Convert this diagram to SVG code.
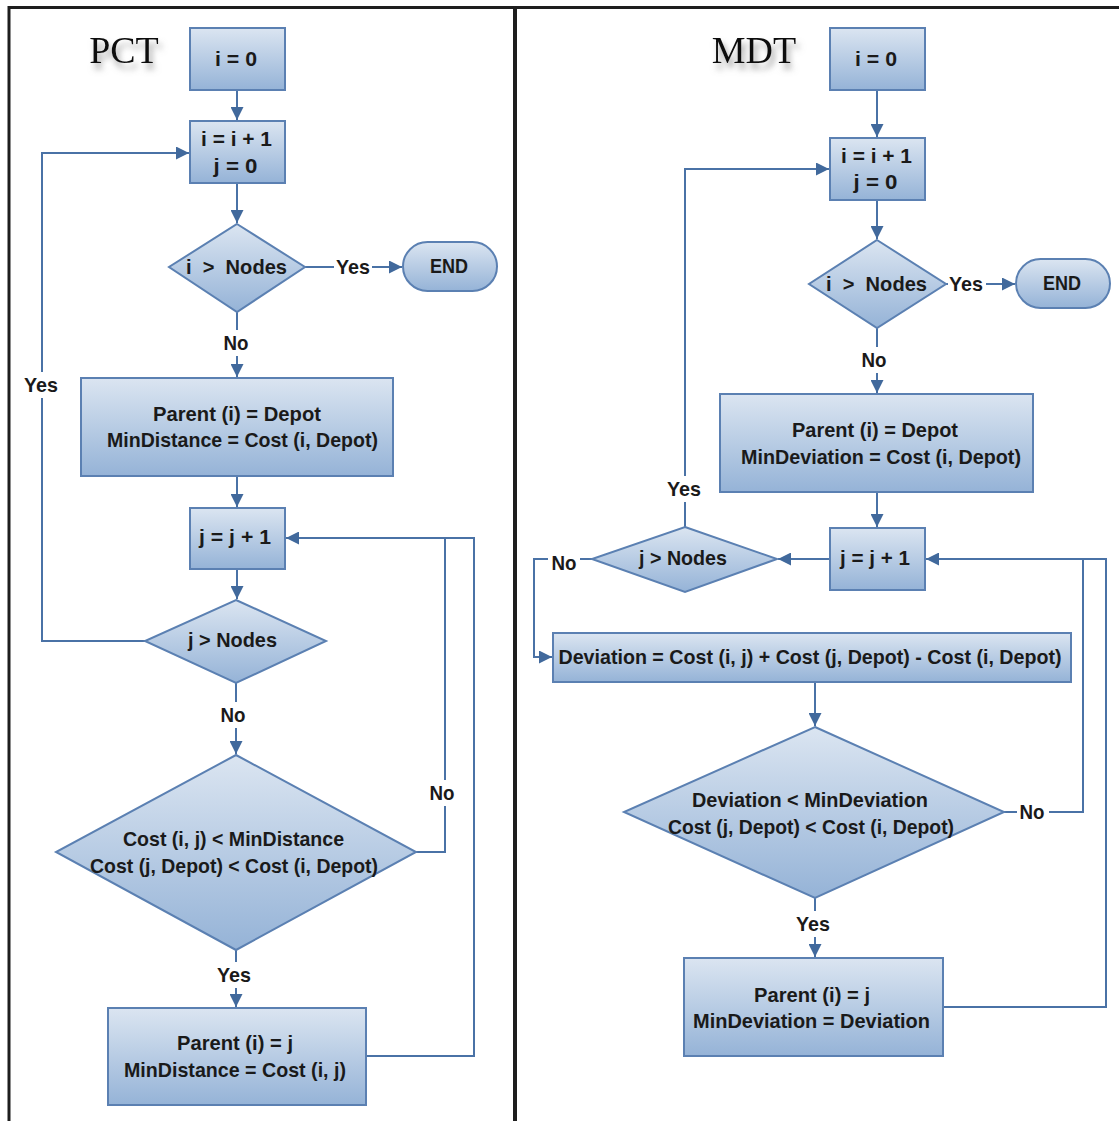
<svg xmlns="http://www.w3.org/2000/svg" width="1119" height="1121" viewBox="0 0 1119 1121">
  <style>
    .box { stroke: #5b80b2; stroke-width: 2; fill: url(#fillGrad); }
    .t, .lbl { font-family: "Liberation Sans", Arial, sans-serif; font-weight: bold; font-size: 21px; fill: #1a1a1a; text-anchor: middle; }
    .pre { white-space: pre; }
    .lblbg { fill: #ffffff; }
    .title { font-family: "Liberation Serif", serif; font-size: 38px; fill: #111; text-anchor: middle; }
    .conn { fill: none; stroke: #4a72a6; stroke-width: 2; }
    .frame { fill: none; stroke: #1e1e1e; }
  </style>
  <defs>
    <linearGradient id="fillGrad" x1="0" y1="0" x2="0" y2="1">
      <stop offset="0" stop-color="#dbe5f1"/>
      <stop offset="1" stop-color="#95b3d7"/>
    </linearGradient>
    <marker id="arrow" viewBox="0 0 10 10" refX="10" refY="5" markerWidth="13" markerHeight="13" markerUnits="userSpaceOnUse" orient="auto">
      <path d="M0,0 L10,5 L0,10 z" fill="#41699c"/>
    </marker>
    <filter id="titleShadow" x="-20%" y="-30%" width="150%" height="180%">
      <feDropShadow dx="3" dy="6" stdDeviation="3" flood-color="#777" flood-opacity="0.7"/>
    </filter>
  </defs>

  <rect width="1119" height="1121" fill="#ffffff"/>

  <!-- outer frame and panel divider -->
  <g id="frame">
    <path class="frame" stroke-width="3" d="M9,1121 V7.5 H1119"/>
    <path class="frame" stroke-width="4" d="M515,7 V1121"/>
  </g>

  <!-- panel titles -->
  <text class="title" x="124" y="63" filter="url(#titleShadow)">PCT</text>
  <text class="title" x="754" y="63" filter="url(#titleShadow)">MDT</text>

  <!-- connectors -->
  <g id="connectors">
    <!-- PCT -->
    <path class="conn" d="M237,90 V120" marker-end="url(#arrow)"/>
    <path class="conn" d="M237,183 V223" marker-end="url(#arrow)"/>
    <path class="conn" d="M305,267 H402" marker-end="url(#arrow)"/>
    <path class="conn" d="M237,312 V377" marker-end="url(#arrow)"/>
    <path class="conn" d="M237,476 V507" marker-end="url(#arrow)"/>
    <path class="conn" d="M237,569 V599" marker-end="url(#arrow)"/>
    <path class="conn" d="M145,641 H42 V153 H189" marker-end="url(#arrow)"/>
    <path class="conn" d="M236,683 V754" marker-end="url(#arrow)"/>
    <path class="conn" d="M416,852 H445 V538 H286" marker-end="url(#arrow)"/>
    <path class="conn" d="M236,950 V1007" marker-end="url(#arrow)"/>
    <path class="conn" d="M366,1056 H474 V538 H445"/>
    <!-- MDT -->
    <path class="conn" d="M877,90 V137" marker-end="url(#arrow)"/>
    <path class="conn" d="M877,200 V239" marker-end="url(#arrow)"/>
    <path class="conn" d="M946,284 H1015" marker-end="url(#arrow)"/>
    <path class="conn" d="M877,328 V393" marker-end="url(#arrow)"/>
    <path class="conn" d="M877,492 V527" marker-end="url(#arrow)"/>
    <path class="conn" d="M829,559 H778" marker-end="url(#arrow)"/>
    <path class="conn" d="M685,527 V169 H829" marker-end="url(#arrow)"/>
    <path class="conn" d="M592,559 H534 V657 H552" marker-end="url(#arrow)"/>
    <path class="conn" d="M815,682 V726" marker-end="url(#arrow)"/>
    <path class="conn" d="M1004,812 H1083 V559 H926" marker-end="url(#arrow)"/>
    <path class="conn" d="M815,898 V957" marker-end="url(#arrow)"/>
    <path class="conn" d="M943,1007 H1106 V559 H1083"/>
  </g>

  <!-- connector labels -->
  <g id="labels">
    <rect class="lblbg" x="334" y="254" width="38" height="26"/><text class="lbl" x="353" y="274" textLength="34" lengthAdjust="spacingAndGlyphs">Yes</text>
    <rect class="lblbg" x="222" y="330" width="30" height="26"/><text class="lbl" x="236" y="350" textLength="25" lengthAdjust="spacingAndGlyphs">No</text>
    <rect class="lblbg" x="22" y="372" width="38" height="26"/><text class="lbl" x="41" y="392" textLength="34" lengthAdjust="spacingAndGlyphs">Yes</text>
    <rect class="lblbg" x="219" y="702" width="30" height="26"/><text class="lbl" x="233" y="722" textLength="25" lengthAdjust="spacingAndGlyphs">No</text>
    <rect class="lblbg" x="428" y="780" width="30" height="26"/><text class="lbl" x="442" y="800" textLength="25" lengthAdjust="spacingAndGlyphs">No</text>
    <rect class="lblbg" x="215" y="962" width="38" height="26"/><text class="lbl" x="234" y="982" textLength="34" lengthAdjust="spacingAndGlyphs">Yes</text>

    <rect class="lblbg" x="948" y="271" width="38" height="26"/><text class="lbl" x="966" y="291" textLength="34" lengthAdjust="spacingAndGlyphs">Yes</text>
    <rect class="lblbg" x="860" y="347" width="30" height="26"/><text class="lbl" x="874" y="367" textLength="25" lengthAdjust="spacingAndGlyphs">No</text>
    <rect class="lblbg" x="665" y="476" width="38" height="26"/><text class="lbl" x="684" y="496" textLength="34" lengthAdjust="spacingAndGlyphs">Yes</text>
    <rect class="lblbg" x="548" y="550" width="32" height="26"/><text class="lbl" x="564" y="570" textLength="25" lengthAdjust="spacingAndGlyphs">No</text>
    <rect class="lblbg" x="1017" y="799" width="32" height="26"/><text class="lbl" x="1032" y="819" textLength="25" lengthAdjust="spacingAndGlyphs">No</text>
    <rect class="lblbg" x="794" y="911" width="38" height="26"/><text class="lbl" x="813" y="931" textLength="34" lengthAdjust="spacingAndGlyphs">Yes</text>
  </g>

  <!-- PCT nodes -->
  <g id="pct-start">
    <rect class="box" x="190" y="28" width="95" height="62"/>
    <text class="t" x="236" y="66" textLength="42" lengthAdjust="spacingAndGlyphs">i = 0</text>
  </g>
  <g id="pct-inc-i">
    <rect class="box" x="190" y="121" width="95" height="62"/>
    <text class="t" x="236.5" y="146" textLength="71" lengthAdjust="spacingAndGlyphs">i = i + 1</text>
    <text class="t" x="235.5" y="173" textLength="44" lengthAdjust="spacingAndGlyphs">j = 0</text>
  </g>
  <g id="pct-check-i">
    <polygon class="box" points="237,224 305,267 237,312 169,267"/>
    <text class="t pre" x="236.5" y="274" textLength="101" lengthAdjust="spacingAndGlyphs">i  &gt;  Nodes</text>
  </g>
  <g id="pct-end">
    <rect class="box" x="403" y="242" width="94" height="49" rx="24.5" ry="24.5"/>
    <text class="t" x="449" y="273" textLength="38" lengthAdjust="spacingAndGlyphs">END</text>
  </g>
  <g id="pct-init-parent">
    <rect class="box" x="81" y="378" width="312" height="98"/>
    <text class="t" x="237" y="421" textLength="168" lengthAdjust="spacingAndGlyphs">Parent (i) = Depot</text>
    <text class="t" x="242.5" y="447" textLength="271" lengthAdjust="spacingAndGlyphs">MinDistance = Cost (i, Depot)</text>
  </g>
  <g id="pct-inc-j">
    <rect class="box" x="190" y="508" width="95" height="61"/>
    <text class="t" x="235" y="544" textLength="72" lengthAdjust="spacingAndGlyphs">j = j + 1</text>
  </g>
  <g id="pct-check-j">
    <polygon class="box" points="236,600 326,641 236,683 145,641"/>
    <text class="t" x="232.5" y="647" textLength="89" lengthAdjust="spacingAndGlyphs">j &gt; Nodes</text>
  </g>
  <g id="pct-compare">
    <polygon class="box" points="236,755 416,852 236,950 56,852"/>
    <text class="t" x="233.5" y="846" textLength="221" lengthAdjust="spacingAndGlyphs">Cost (i, j) &lt; MinDistance</text>
    <text class="t" x="234" y="873" textLength="288" lengthAdjust="spacingAndGlyphs">Cost (j, Depot) &lt; Cost (i, Depot)</text>
  </g>
  <g id="pct-update">
    <rect class="box" x="108" y="1008" width="258" height="97"/>
    <text class="t" x="235" y="1050" textLength="116" lengthAdjust="spacingAndGlyphs">Parent (i) = j</text>
    <text class="t" x="235" y="1077" textLength="222" lengthAdjust="spacingAndGlyphs">MinDistance = Cost (i, j)</text>
  </g>

  <!-- MDT nodes -->
  <g id="mdt-start">
    <rect class="box" x="830" y="28" width="95" height="62"/>
    <text class="t" x="876" y="66" textLength="42" lengthAdjust="spacingAndGlyphs">i = 0</text>
  </g>
  <g id="mdt-inc-i">
    <rect class="box" x="830" y="138" width="95" height="62"/>
    <text class="t" x="876.5" y="163" textLength="71" lengthAdjust="spacingAndGlyphs">i = i + 1</text>
    <text class="t" x="875.5" y="189" textLength="44" lengthAdjust="spacingAndGlyphs">j = 0</text>
  </g>
  <g id="mdt-check-i">
    <polygon class="box" points="877,240 946,284 877,328 809,284"/>
    <text class="t pre" x="876.5" y="291" textLength="101" lengthAdjust="spacingAndGlyphs">i  &gt;  Nodes</text>
  </g>
  <g id="mdt-end">
    <rect class="box" x="1016" y="259" width="94" height="49" rx="24.5" ry="24.5"/>
    <text class="t" x="1062" y="290" textLength="38" lengthAdjust="spacingAndGlyphs">END</text>
  </g>
  <g id="mdt-init-parent">
    <rect class="box" x="720" y="394" width="313" height="98"/>
    <text class="t" x="875" y="437" textLength="166" lengthAdjust="spacingAndGlyphs">Parent (i) = Depot</text>
    <text class="t" x="881" y="464" textLength="280" lengthAdjust="spacingAndGlyphs">MinDeviation = Cost (i, Depot)</text>
  </g>
  <g id="mdt-inc-j">
    <rect class="box" x="830" y="528" width="95" height="62"/>
    <text class="t" x="875" y="565" textLength="70" lengthAdjust="spacingAndGlyphs">j = j + 1</text>
  </g>
  <g id="mdt-check-j">
    <polygon class="box" points="685,527 777,559 685,592 592,559"/>
    <text class="t" x="683" y="565" textLength="88" lengthAdjust="spacingAndGlyphs">j &gt; Nodes</text>
  </g>
  <g id="mdt-deviation">
    <rect class="box" x="553" y="633" width="518" height="49"/>
    <text class="t" x="810" y="664" textLength="503" lengthAdjust="spacingAndGlyphs">Deviation = Cost (i, j) + Cost (j, Depot) - Cost (i, Depot)</text>
  </g>
  <g id="mdt-compare">
    <polygon class="box" points="815,727 1004,812 815,898 624,812"/>
    <text class="t" x="810" y="807" textLength="236" lengthAdjust="spacingAndGlyphs">Deviation &lt; MinDeviation</text>
    <text class="t" x="811" y="834" textLength="286" lengthAdjust="spacingAndGlyphs">Cost (j, Depot) &lt; Cost (i, Depot)</text>
  </g>
  <g id="mdt-update">
    <rect class="box" x="684" y="958" width="259" height="98"/>
    <text class="t" x="812" y="1002" textLength="116" lengthAdjust="spacingAndGlyphs">Parent (i) = j</text>
    <text class="t" x="811.5" y="1028" textLength="237" lengthAdjust="spacingAndGlyphs">MinDeviation = Deviation</text>
  </g>
</svg>
